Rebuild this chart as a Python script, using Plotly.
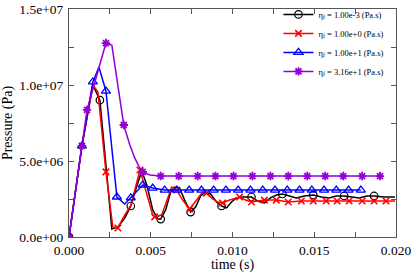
import plotly.graph_objects as go

# ---- data (time in s, pressure in Pa) ----
black_t = [0.0, 0.00079, 0.00146, 0.00189, 0.00262, 0.00299, 0.00341, 0.00378, 0.00415, 0.00445,
           0.00476, 0.00512, 0.00543, 0.00561, 0.00591, 0.00622, 0.00646, 0.00677, 0.00707, 0.00744,
           0.00774, 0.00805, 0.00835, 0.00866, 0.00902, 0.00933, 0.00963, 0.00994, 0.01024, 0.01061,
           0.01116, 0.01152, 0.01195, 0.01232, 0.01268, 0.01305, 0.01348, 0.0139, 0.01439, 0.01494,
           0.01543, 0.01591, 0.01634, 0.01683, 0.01732, 0.01774, 0.01823, 0.01866, 0.01927, 0.01994]
black_p = [0.0, 6.0e6, 10.0e6, 9.0e6, 0.53e6, 0.66e6, 1.25e6, 2.04e6, 3.36e6, 4.34e6,
           3.42e6, 1.78e6, 1.18e6, 1.18e6, 1.78e6, 2.96e6, 3.29e6, 3.22e6, 2.43e6, 1.64e6,
           1.97e6, 2.70e6, 2.96e6, 2.83e6, 2.30e6, 2.04e6, 1.91e6, 2.30e6, 2.57e6, 2.63e6,
           2.63e6, 2.37e6, 2.24e6, 2.57e6, 2.76e6, 2.83e6, 2.70e6, 2.57e6, 2.70e6, 2.76e6,
           2.63e6, 2.57e6, 2.70e6, 2.70e6, 2.63e6, 2.57e6, 2.70e6, 2.70e6, 2.63e6, 2.63e6]
black_mark = [1, 0, 0, 1, 0, 0, 0, 1, 0, 0,
              0, 0, 0, 1, 0, 0, 0, 0, 0, 1,
              0, 0, 0, 0, 0, 1, 0, 0, 0, 0,
              1, 0, 0, 0, 0, 1, 0, 0, 0, 1,
              0, 0, 0, 1, 0, 0, 0, 1, 0, 0]

red_t = [0.0, 0.00079, 0.00146, 0.00177, 0.00226, 0.00268, 0.00299, 0.0033, 0.00379, 0.00434,
         0.00512, 0.00524, 0.00567, 0.00628, 0.00659, 0.00695, 0.00738, 0.00781, 0.00817, 0.00841,
         0.00878, 0.00909, 0.00939, 0.00982, 0.01043, 0.0108, 0.01116, 0.01195, 0.01268, 0.01341,
         0.01421, 0.01494, 0.01573, 0.0164, 0.01713, 0.01793, 0.01866, 0.01939, 0.01994]
red_p = [0.0, 6.0e6, 10.0e6, 9.54e6, 4.28e6, 0.66e6, 0.59e6, 1.25e6, 2.11e6, 4.41e6,
         1.45e6, 1.32e6, 1.45e6, 3.29e6, 3.09e6, 2.43e6, 1.84e6, 2.43e6, 2.96e6, 2.89e6,
         2.50e6, 2.30e6, 2.24e6, 2.43e6, 2.63e6, 2.43e6, 2.30e6, 2.43e6, 2.43e6, 2.30e6,
         2.37e6, 2.37e6, 2.37e6, 2.37e6, 2.37e6, 2.37e6, 2.37e6, 2.37e6, 2.37e6]
red_mark = [1, 0, 0, 0, 1, 0, 1, 0, 0, 1,
            0, 1, 0, 0, 1, 0, 1, 0, 0, 1,
            0, 0, 1, 0, 1, 0, 1, 1, 1, 1,
            1, 1, 1, 1, 1, 1, 1, 1, 0]

blue_t = [0.0, 0.00079, 0.00146, 0.00183, 0.00226, 0.00293, 0.00341, 0.00378, 0.00451, 0.00512,
          0.00585, 0.0066, 0.00735, 0.0081, 0.00885, 0.0096, 0.01035, 0.0111, 0.01185, 0.0126,
          0.01335, 0.0141, 0.01485, 0.0156, 0.01635, 0.0171, 0.01785]
blue_p = [0.0, 6.0e6, 10.2e6, 11.18e6, 9.6e6, 2.63e6, 2.17e6, 2.57e6, 3.42e6, 3.22e6,
          3.09e6, 3.09e6, 3.09e6, 3.09e6, 3.09e6, 3.09e6, 3.09e6, 3.09e6, 3.09e6, 3.09e6,
          3.09e6, 3.09e6, 3.09e6, 3.09e6, 3.09e6, 3.09e6, 3.09e6]
blue_mark = [1, 1, 1, 0, 1, 1, 0, 1, 1, 1,
             1, 1, 1, 1, 1, 1, 1, 1, 1, 1,
             1, 1, 1, 1, 1, 1, 1]

purple_t = [0.0, 0.00079, 0.0011, 0.00226, 0.00262, 0.00335, 0.00372, 0.00402, 0.00433, 0.00451,
            0.00494, 0.00561, 0.00671, 0.00787, 0.00896, 0.01006, 0.01122, 0.01232, 0.01341, 0.01457,
            0.01567, 0.01677, 0.01793, 0.01902]
purple_p = [0.0, 6.0e6, 8.36e6, 12.76e6, 12.63e6, 7.37e6, 6.05e6, 5.2e6, 4.54e6, 4.28e6,
            4.08e6, 4.01e6, 4.01e6, 4.01e6, 4.01e6, 4.01e6, 4.01e6, 4.01e6, 4.01e6, 4.01e6,
            4.01e6, 4.01e6, 4.01e6, 4.01e6]
purple_mark = [1, 1, 1, 1, 0, 1, 0, 0, 0, 1,
               0, 1, 1, 1, 1, 1, 1, 1, 1, 1,
               1, 1, 1, 1]

names = ["η<sub>f</sub> = 1.00e-3 (Pa.s)", "η<sub>f</sub> = 1.00e+0 (Pa.s)",
         "η<sub>f</sub> = 1.00e+1 (Pa.s)", "η<sub>f</sub> = 3.16e+1 (Pa.s)"]

x_ticks = [0.0, 0.005, 0.010, 0.015, 0.020]
y_ticks = [0.0, 5.0e6, 1.0e7, 1.5e7]
y_ticktext = ["0.0e+00", "5.0e+06", "1.0e+07", "1.5e+07"]

FONT = "Times New Roman"

series = [
    (black_t, black_p, black_mark, "black", dict(symbol="circle-open", size=7.5, line=dict(width=1.2, color="black"))),
    (red_t, red_p, red_mark, "#ff0000", dict(symbol="x-thin-open", size=6.5, line=dict(width=1.6, color="#ff0000"))),
    (blue_t, blue_p, blue_mark, "#0000ff", dict(symbol="triangle-up-open", size=8, line=dict(width=1.3, color="#0000ff"))),
    (purple_t, purple_p, purple_mark, "#9400d3", dict(symbol="asterisk-open", size=7, line=dict(width=1.8, color="#9400d3"))),
]

fig = go.Figure()
for (t, p, m, col, mk), name in zip(series, names):
    fig.add_trace(go.Scatter(x=t, y=p, mode="lines", line=dict(color=col, width=1.5),
                             showlegend=False, hoverinfo="skip"))
    mt = [ti for ti, f in zip(t, m) if f]
    mp = [pi for pi, f in zip(p, m) if f]
    fig.add_trace(go.Scatter(x=mt, y=mp, mode="markers", marker=dict(color=col, **mk),
                             showlegend=False))
    fig.add_trace(go.Scatter(x=[None], y=[None], mode="lines+markers", name=name,
                             line=dict(color=col, width=1.5), marker=dict(color=col, **mk)))

axis_common = dict(showline=True, linecolor="#555555", linewidth=1, mirror="ticks",
                   ticks="inside", ticklen=5, tickcolor="#555555", showgrid=False, zeroline=False,
                   tickfont=dict(family=FONT, size=13.5, color="black"))

fig.update_xaxes(range=[0, 0.020], tickvals=x_ticks, tickformat=".3f", ticklabelstandoff=1,
                 minor=dict(dtick=0.0025, ticks="inside", ticklen=5, tickcolor="#555555", showgrid=False),
                 title=dict(text="time (s)", font=dict(family=FONT, size=14, color="black"), standoff=3),
                 **axis_common)
fig.update_yaxes(range=[0, 1.5e7], tickvals=y_ticks, ticktext=y_ticktext, ticklabelstandoff=2,
                 minor=dict(dtick=2.5e6, ticks="inside", ticklen=5, tickcolor="#555555", showgrid=False),
                 title=dict(text="Pressure (Pa)", font=dict(family=FONT, size=14, color="black"), standoff=6),
                 **axis_common)

fig.update_layout(
    width=415, height=273,
    margin=dict(l=69, r=19, t=9, b=36, autoexpand=False),
    paper_bgcolor="white", plot_bgcolor="white",
    legend=dict(x=0.98, y=1.04, xanchor="right", yanchor="top", bgcolor="rgba(0,0,0,0)",
                font=dict(family=FONT, size=8.5, color="black"), tracegroupgap=0,
                itemwidth=30),
    showlegend=True,
)

fig.write_html("out.html", config={"displayModeBar": False},
               post_script="document.body.style.margin='0';document.body.style.overflow='hidden';")
